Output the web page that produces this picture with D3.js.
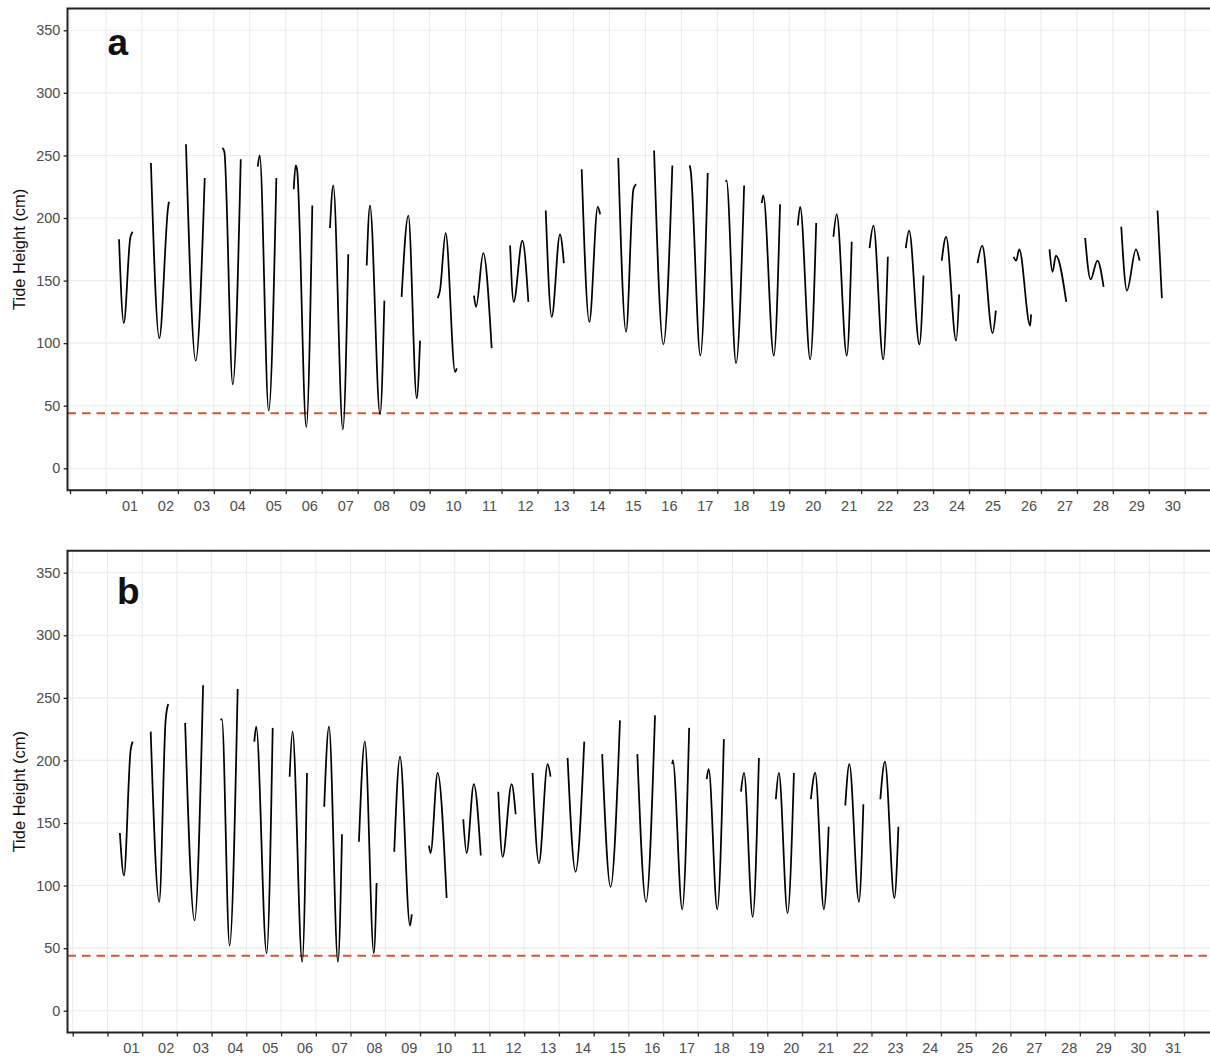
<!DOCTYPE html>
<html>
<head>
<meta charset="utf-8">
<script src="https://cdn.jsdelivr.net/npm/d3@7"></script>
<style>
  body { margin: 0; background: #fff; }
  svg { display: block; }
  text { font-family: "Liberation Sans", Arial, Helvetica, sans-serif; }
</style>
</head>
<body>
<svg id="chart" width="1210" height="1057"></svg>
<script>
// ---- values ---------------------------------------------------------------
const yTickValues = [0, 50, 100, 150, 200, 250, 300, 350];

const dayLabelsA = ["01","02","03","04","05","06","07","08","09","10",
                    "11","12","13","14","15","16","17","18","19","20",
                    "21","22","23","24","25","26","27","28","29","30"];
const dayLabelsB = ["01","02","03","04","05","06","07","08","09","10",
                    "11","12","13","14","15","16","17","18","19","20",
                    "21","22","23","24","25","26","27","28","29","30","31"];

// reference low-water height (cm)
const lowWaterMark = 44;

// observed tide height per day: [day, [[hour of day, height cm], ...]]
const tideA = [
  [1,  [[8.7,183],[11.9,116],[16.2,184],[17.8,189]]],
  [2,  [[6.0,244],[11.6,104],[17.4,208],[18.0,213]]],
  [3,  [[5.4,259],[11.9,86],[17.9,232]]],
  [4,  [[5.7,256],[7.0,253],[12.6,67],[17.95,247]]],
  [5,  [[5.3,241],[6.6,250],[12.6,46],[17.7,232]]],
  [6,  [[5.3,223],[6.6,242],[7.6,238],[13.7,33],[17.7,210]]],
  [7,  [[5.5,192],[7.7,226],[14.1,31],[17.7,171]]],
  [8,  [[6.0,162],[8.2,210],[14.9,43],[17.8,134]]],
  [9,  [[5.3,137],[9.8,202],[15.4,56],[17.6,102]]],
  [10, [[5.4,136],[6.9,142],[10.7,188],[17.0,77],[18.1,80]]],
  [11, [[5.6,138],[7.0,129],[11.8,172],[17.4,96]]],
  [12, [[5.7,178],[8.1,133],[13.9,182],[17.9,133]]],
  [13, [[5.5,206],[9.5,121],[15.0,187],[17.6,164]]],
  [14, [[5.5,239],[10.6,117],[16.2,209],[17.8,203]]],
  [15, [[5.9,248],[11.1,109],[16.0,223],[17.8,227]]],
  [16, [[5.8,254],[12.0,99],[18.0,242]]],
  [17, [[5.6,242],[6.3,237],[12.7,90],[17.6,236]]],
  [18, [[5.7,229],[6.1,230],[12.5,84],[17.9,226]]],
  [19, [[5.7,212],[6.7,218],[13.7,90],[17.9,211]]],
  [20, [[5.7,194],[7.3,209],[14.0,87],[18.0,196]]],
  [21, [[5.5,185],[7.7,203],[14.4,90],[17.7,181]]],
  [22, [[5.6,176],[8.2,194],[14.7,87],[17.8,169]]],
  [23, [[5.8,176],[8.0,190],[14.9,99],[17.6,154]]],
  [24, [[5.8,166],[8.7,185],[15.4,102],[17.4,139]]],
  [25, [[5.7,164],[8.8,178],[15.7,108],[17.9,126]]],
  [26, [[5.7,169],[7.5,166],[9.5,175],[16.8,114],[17.4,123]]],
  [27, [[5.7,175],[7.7,157],[10.0,170],[16.9,133]]],
  [28, [[5.5,184],[9.1,151],[13.7,166],[17.8,145]]],
  [29, [[5.6,193],[9.4,142],[15.4,175],[17.8,166]]],
  [30, [[5.8,206],[8.7,136]]]
];

const tideB = [
  [1,  [[8.6,142],[11.4,108],[16.0,208],[17.4,215]]],
  [2,  [[5.9,223],[11.8,87],[16.2,232],[18.0,245]]],
  [3,  [[5.7,230],[12.2,72],[18.1,260]]],
  [4,  [[6.2,232],[7.1,233],[12.4,52],[18.0,257]]],
  [5,  [[5.5,215],[6.8,227],[14.0,46],[18.2,226]]],
  [6,  [[5.9,187],[7.9,223],[14.6,39],[17.9,190]]],
  [7,  [[5.8,163],[9.1,227],[15.3,39],[18.1,141]]],
  [8,  [[5.8,135],[9.9,215],[16.1,46],[18.0,102]]],
  [9,  [[6.2,127],[10.2,203],[17.1,68],[18.3,77]]],
  [10, [[6.2,132],[7.3,126],[12.2,190],[18.4,90]]],
  [11, [[5.9,153],[8.2,126],[13.2,181],[18.0,124]]],
  [12, [[6.1,175],[9.1,123],[15.3,181],[18.1,157]]],
  [13, [[5.8,190],[10.2,118],[16.2,197],[18.2,187]]],
  [14, [[6.0,202],[11.5,111],[17.5,215]]],
  [15, [[5.9,205],[11.7,99],[18.2,232]]],
  [16, [[6.2,205],[12.2,87],[18.4,236]]],
  [17, [[6.3,197],[6.7,200],[13.2,81],[18.0,226]]],
  [18, [[6.1,185],[7.5,193],[13.4,81],[18.0,217]]],
  [19, [[5.8,175],[7.9,190],[13.9,75],[18.2,202]]],
  [20, [[5.9,169],[8.0,190],[14.0,78],[18.4,190]]],
  [21, [[6.1,169],[9.1,190],[15.1,81],[18.4,147]]],
  [22, [[5.9,164],[8.7,197],[15.3,87],[18.4,165]]],
  [23, [[6.1,169],[9.3,199],[15.8,90],[18.6,147]]]
];

// ---- layout ---------------------------------------------------------------
const svg = d3.select("#chart");
const plotLeft = 67.5, plotRight = 1224, panelH = 481.8;
const yDomain = [-17.5, 367.5];

const panels = [
  { top: 8.4,   xDomain: [-1.07, 31.09], labels: dayLabelsA, data: tideA, letter: "a", letterX: 107.5, letterY: 55 },
  { top: 550.8, xDomain: [-1.15, 32.15], labels: dayLabelsB, data: tideB, letter: "b", letterX: 117,   letterY: 604 }
];

panels.forEach(p => {
  const bottom = p.top + panelH;
  const x = d3.scaleLinear().domain(p.xDomain).range([plotLeft, plotRight]);
  const y = d3.scaleLinear().domain(yDomain).range([bottom, p.top]);
  const dayTicks = d3.range(-1, p.labels.length + 1);   // midnight of each day

  const g = svg.append("g");

  g.append("rect")
    .attr("x", plotLeft).attr("y", p.top)
    .attr("width", plotRight - plotLeft).attr("height", panelH)
    .attr("fill", "#ffffff");

  // grid
  g.append("g").selectAll("line.h").data(yTickValues).join("line")
    .attr("x1", plotLeft).attr("x2", plotRight)
    .attr("y1", d => y(d)).attr("y2", d => y(d))
    .attr("stroke", "#ebebeb").attr("stroke-width", 1.1);
  g.append("g").selectAll("line.v").data(dayTicks).join("line")
    .attr("x1", d => x(d)).attr("x2", d => x(d))
    .attr("y1", p.top).attr("y2", bottom)
    .attr("stroke", "#ebebeb").attr("stroke-width", 1.1);

  // low-water reference
  g.append("line")
    .attr("x1", plotLeft).attr("x2", plotRight)
    .attr("y1", y(lowWaterMark)).attr("y2", y(lowWaterMark))
    .attr("stroke", "#d8532f").attr("stroke-width", 2)
    .attr("stroke-dasharray", "8.5 6");

  // tide curves, one path per observed day
  const line = d3.line()
    .x(d => x(d[0]))
    .y(d => y(d[1]))
    .curve(d3.curveMonotoneX);

  g.append("g").selectAll("path").data(p.data).join("path")
    .attr("d", ([day, pts]) => line(pts.map(([h, v]) => [day - 1 + h / 24, v])))
    .attr("fill", "none")
    .attr("stroke", "#000")
    .attr("stroke-width", 1.75)
    .attr("stroke-linejoin", "round");

  // panel frame
  g.append("path")
    .attr("d", `M${plotRight},${p.top}H${plotLeft}V${bottom}H${plotRight}`)
    .attr("fill", "none").attr("stroke", "#222").attr("stroke-width", 2);

  // x axis
  const xAxis = d3.axisBottom(x)
    .tickValues(dayTicks)
    .tickSize(3.8).tickSizeOuter(0)
    .tickFormat(t => (t >= 0 && t < p.labels.length) ? p.labels[t] : "");
  const xg = g.append("g").attr("transform", `translate(0,${bottom})`).call(xAxis);
  xg.select(".domain").remove();
  xg.selectAll(".tick line").attr("stroke", "#222").attr("stroke-width", 1.3);
  xg.selectAll(".tick text")
    .attr("x", 23.5).attr("y", 10.5).attr("dy", "0.71em")
    .attr("fill", "#4d4d4d").style("font-size", "14.5px");

  // y axis
  const yAxis = d3.axisLeft(y).tickValues(yTickValues).tickSize(3.8).tickSizeOuter(0).tickPadding(3.3);
  const yg = g.append("g").attr("transform", `translate(${plotLeft},0)`).call(yAxis);
  yg.select(".domain").remove();
  yg.selectAll(".tick line").attr("stroke", "#222").attr("stroke-width", 1.3);
  yg.selectAll(".tick text").attr("fill", "#4d4d4d").style("font-size", "14.5px");

  // y title
  g.append("text")
    .attr("transform", `translate(25,${(p.top + bottom) / 2}) rotate(-90)`)
    .attr("text-anchor", "middle")
    .attr("fill", "#111")
    .style("font-size", "16.5px")
    .text("Tide Height (cm)");

  // panel letter
  g.append("text")
    .attr("x", p.letterX).attr("y", p.letterY)
    .attr("fill", "#111")
    .style("font-size", "37px").style("font-weight", "bold")
    .text(p.letter);
});
</script>
</body>
</html>
